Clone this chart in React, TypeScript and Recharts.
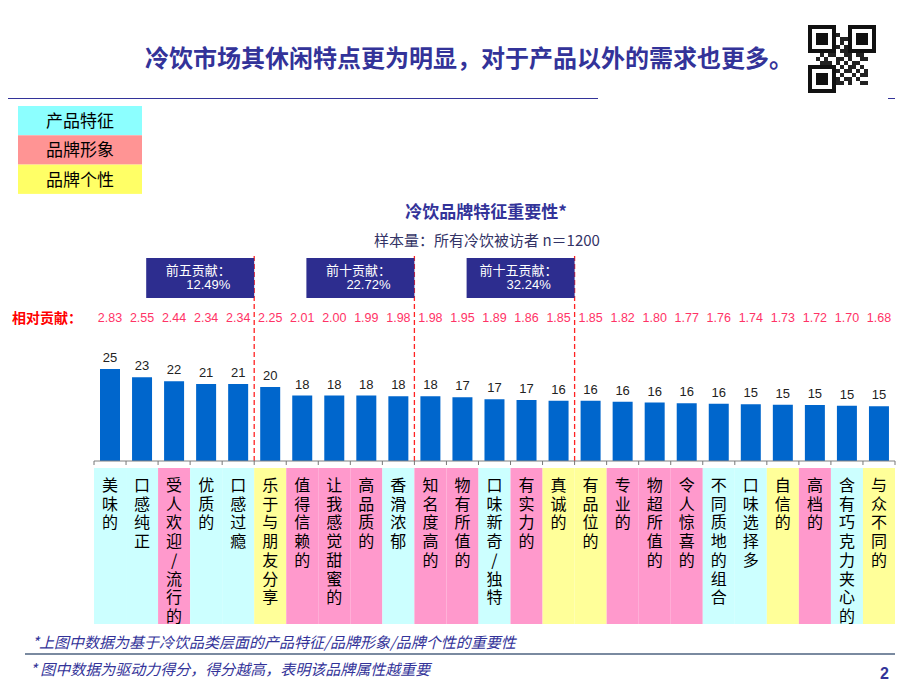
import React from 'react';
import { BarChart, Bar, XAxis, YAxis, LabelList, ReferenceLine } from 'recharts';

// ---------- data ----------
const categories = [
  '美味的', '口感纯正', '受人欢迎/流行的', '优质的', '口感过瘾',
  '乐于与朋友分享', '值得信赖的', '让我感觉甜蜜的', '高品质的', '香滑浓郁',
  '知名度高的', '物有所值的', '口味新奇/独特', '有实力的', '真诚的',
  '有品位的', '专业的', '物超所值的', '令人惊喜的', '不同质地的组合',
  '口味选择多', '自信的', '高档的', '含有巧克力夹心的', '与众不同的',
];
const scores = [
  25.0, 22.8, 21.7, 20.9, 20.9,
  20.1, 17.8, 17.8, 17.8, 17.6,
  17.6, 17.3, 16.8, 16.6, 16.4,
  16.4, 16.1, 15.9, 15.7, 15.55,
  15.4, 15.3, 15.2, 15.0, 14.9,
];
const scoreLabels = [
  '25', '23', '22', '21', '21',
  '20', '18', '18', '18', '18',
  '18', '17', '17', '17', '16',
  '16', '16', '16', '16', '16',
  '15', '15', '15', '15', '15',
];
const relContrib = [
  '2.83', '2.55', '2.44', '2.34', '2.34',
  '2.25', '2.01', '2.00', '1.99', '1.98',
  '1.98', '1.95', '1.89', '1.86', '1.85',
  '1.85', '1.82', '1.80', '1.77', '1.76',
  '1.74', '1.73', '1.72', '1.70', '1.68',
];
// P = 产品特征, B = 品牌形象, X = 品牌个性
const groups = [
  'P', 'P', 'B', 'P', 'P',
  'X', 'B', 'B', 'B', 'P',
  'B', 'B', 'P', 'B', 'X',
  'X', 'B', 'B', 'B', 'P',
  'P', 'X', 'B', 'P', 'X',
];
const groupNames = ['产品特征', '品牌形象', '品牌个性'];
const cellColors: Record<string, string> = { P: '#CCFFFF', B: '#FF99CC', X: '#FFFF99' };
const legendColors = ['#8CFFFF', '#FF9494', '#FFFF66'];

const milestoneAfter = ['口感过瘾', '香滑浓郁', '真诚的'];
const milestoneTitles = ['前五贡献：', '前十贡献：', '前十五贡献：'];
const milestoneValues = ['12.49%', '22.72%', '32.24%'];

const data = categories.map((name, i) => ({
  name,
  score: scores[i],
  label: scoreLabels[i],
}));

// ---------- layout ----------
const W = 920;
const H = 690;
const MARGIN = { top: 254, right: 25, bottom: 69, left: 94 };
const PLOT_W = W - MARGIN.left - MARGIN.right;
const BAND = PLOT_W / categories.length;
const FONT = "'Liberation Sans', 'Noto Sans CJK SC', sans-serif";
const CJK = "'Noto Sans CJK SC', 'Liberation Sans', sans-serif";
const NAVY = '#333399';

const CategoryTick = (props: any) => {
  const { x, y, payload } = props;
  const i = payload.index;
  const chars = Array.from(categories[i] as string);
  const half = BAND / 2;
  return (
    <g>
      <rect x={x - half} y={y + 7} width={BAND} height={156} fill={cellColors[groups[i]]} />
      <line x1={x - half} y1={y} x2={x - half} y2={y + 4} stroke="#777" />
      {i === categories.length - 1 && (
        <line x1={x + half} y1={y} x2={x + half} y2={y + 4} stroke="#777" />
      )}
      {chars.map((c, k) => (
        <text key={k} x={x} y={y + 30 + k * 18.7} textAnchor="middle" fontSize={16} fill="#000" fontFamily={CJK}>
          {c}
        </text>
      ))}
    </g>
  );
};

const RelTick = (props: any) => {
  const { x, y, payload } = props;
  return (
    <text x={x} y={y + 67} textAnchor="middle" fontSize={12.5} fill="#FF3366" fontFamily={FONT}>
      {relContrib[payload.index]}
    </text>
  );
};

const MilestoneBox = (props: any) => {
  const { viewBox, title, value } = props;
  if (!viewBox) return null;
  const bw = 108;
  const left = viewBox.x - bw;
  const top = viewBox.y + 3;
  return (
    <g>
      <rect x={left} y={top} width={bw} height={40} fill="#2D2D8F" />
      <text x={left + bw / 2 - 2} y={top + 17} textAnchor="middle" fontSize={13} fill="#fff" fontFamily={CJK}>
        {title}
      </text>
      <text x={left + 40} y={top + 31} fontSize={13} fill="#fff" fontFamily={FONT}>
        {value}
      </text>
    </g>
  );
};

const QR = () => {
  const cells: React.ReactNode[] = [];
  const seedRows = [
    '1011010011001', '0110101100110', '1101001011010', '0010110100101',
    '1100101101001', '0101100110110', '1010011010011', '0111010101100',
    '1001101011010', '0110010110101', '1011101001011', '0100110110100', '1101011010011',
  ];
  const s = 68 / 17;
  seedRows.forEach((row, r) =>
    Array.from(row).forEach((v, c) => {
      if (v === '1') cells.push(<rect key={`${r}-${c}`} x={808 + (c + 2) * s} y={25 + (r + 2) * s} width={s} height={s} fill="#222" />);
    })
  );
  const finder = (fx: number, fy: number, k: string) => (
    <g key={k}>
      <rect x={fx} y={fy} width={s * 7} height={s * 7} fill="#fff" />
      <rect x={fx + s / 2} y={fy + s / 2} width={s * 6} height={s * 6} fill="none" stroke="#111" strokeWidth={s} />
      <rect x={fx + s * 2} y={fy + s * 2} width={s * 3} height={s * 3} fill="#111" />
    </g>
  );
  return (
    <g>
      <rect x={808} y={25} width={68} height={68} fill="#fff" />
      {cells}
      {finder(808, 25, 'a')}
      {finder(808 + 10 * s, 25, 'b')}
      {finder(808, 25 + 10 * s, 'c')}
    </g>
  );
};

export default function App() {
  return (
    <div style={{ position: 'absolute', left: 0, top: 0, width: W, height: H, background: '#fff' }}>
      <svg width={W} height={H} style={{ position: 'absolute', left: 0, top: 0 }}>
        {/* header */}
        <text x={145} y={67} fontSize={24} fontWeight="bold" fill={NAVY} fontFamily={CJK}>
          冷饮市场其休闲特点更为明显，对于产品以外的需求也更多。
        </text>
        <line x1={8} y1={98.5} x2={598} y2={98.5} stroke={NAVY} strokeWidth={1} />
        <line x1={888} y1={98.5} x2={895} y2={98.5} stroke={NAVY} strokeWidth={1} />
        <QR />
        {/* legend */}
        {groupNames.map((g, i) => (
          <g key={g}>
            <rect x={18} y={106 + i * 29.3} width={124} height={29.3} fill={legendColors[i]} />
            <text x={80} y={127 + i * 29.3} textAnchor="middle" fontSize={17} fill="#000" fontFamily={CJK}>
              {g}
            </text>
          </g>
        ))}
        {/* chart titles */}
        <text x={486} y={218} textAnchor="middle" fontSize={17} fontWeight="bold" fill={NAVY} fontFamily={CJK}>
          冷饮品牌特征重要性*
        </text>
        <text x={487} y={246} textAnchor="middle" fontSize={15} fill="#333366" fontFamily={CJK}>
          样本量：所有冷饮被访者 n＝1200
        </text>
        <text x={12} y={323} fontSize={14} fontWeight="bold" fill="#FF0000" fontFamily={CJK}>
          相对贡献：
        </text>
        {/* footnotes */}
        <text x={32} y={648} fontSize={15} fontStyle="italic" fill={NAVY} fontFamily={CJK}>
          *上图中数据为基于冷饮品类层面的产品特征/品牌形象/品牌个性的重要性
        </text>
        <line x1={25} y1={654} x2={895} y2={654} stroke="#7A8AA0" strokeWidth={2} />
        <text x={30} y={675} fontSize={15} fontStyle="italic" fill={NAVY} fontFamily={CJK}>
          * 图中数据为驱动力得分，得分越高，表明该品牌属性越重要
        </text>
        <text x={880} y={679} fontSize={16} fontWeight="bold" fill={NAVY} fontFamily={FONT}>
          2
        </text>
      </svg>
      <div style={{ position: 'absolute', left: 0, top: 0 }}>
        <BarChart width={W} height={H} data={data} margin={MARGIN}>
          <YAxis hide domain={[0, 56]} />
          <XAxis
            dataKey="name"
            interval={0}
            height={160}
            tickSize={0}
            tickMargin={0}
            tickLine={false}
            axisLine={{ stroke: '#808080' }}
            tick={<CategoryTick />}
          />
          <XAxis
            xAxisId="rel"
            orientation="top"
            dataKey="name"
            interval={0}
            height={1}
            tickSize={0}
            tickMargin={0}
            tickLine={false}
            axisLine={false}
            tick={<RelTick />}
          />
          <Bar dataKey="score" fill="#0066CC" barSize={20} isAnimationActive={false}>
            <LabelList dataKey="label" position="top" offset={7} fontSize={13} fill="#222" fontFamily={FONT} />
          </Bar>
          {milestoneAfter.map((cat, i) => (
            <ReferenceLine
              key={cat}
              x={cat}
              position="end"
              stroke="#FF2222"
              strokeWidth={1.3}
              strokeDasharray="5 3"
              label={<MilestoneBox title={milestoneTitles[i]} value={milestoneValues[i]} />}
            />
          ))}
        </BarChart>
      </div>
    </div>
  );
}
